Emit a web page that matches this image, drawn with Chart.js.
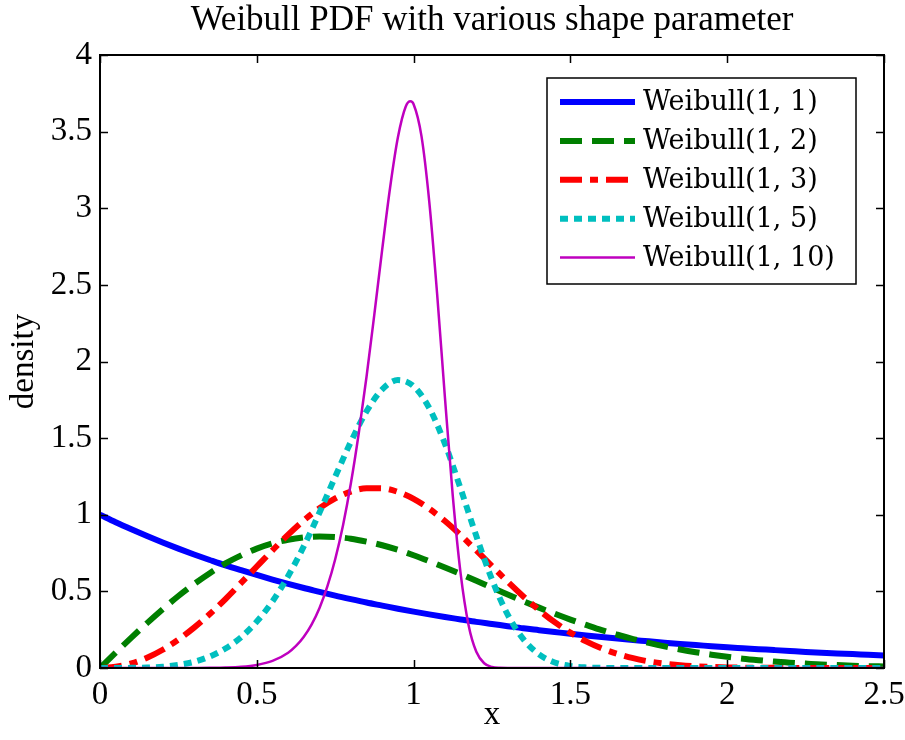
<!DOCTYPE html>
<html>
<head>
<meta charset="utf-8">
<script src="https://cdn.jsdelivr.net/npm/chart.js@4.4.1/dist/chart.umd.min.js"></script>
<style>
  body { margin: 0; background: #fff; }
  canvas { display: block; }
</style>
</head>
<body>
<canvas id="weibullChart" width="905" height="740"></canvas>
<script>
// valores
var xGrid = [0, 0.05, 0.1, 0.15, 0.2, 0.25, 0.3, 0.35, 0.4, 0.45, 0.5, 0.55, 0.6, 0.65, 0.7, 0.75, 0.8, 0.85, 0.9, 0.95,
  1, 1.05, 1.1, 1.15, 1.2, 1.25, 1.3, 1.35, 1.4, 1.45, 1.5, 1.55, 1.6, 1.65, 1.7, 1.75, 1.8, 1.85, 1.9, 1.95,
  2, 2.05, 2.1, 2.15, 2.2, 2.25, 2.3, 2.35, 2.4, 2.45, 2.5];

var weibull1 = [1, 0.951, 0.905, 0.861, 0.819, 0.779, 0.741, 0.705, 0.670, 0.638, 0.607, 0.577, 0.549, 0.522, 0.497, 0.472, 0.449, 0.427, 0.407, 0.387,
  0.368, 0.350, 0.333, 0.317, 0.301, 0.287, 0.273, 0.259, 0.247, 0.235, 0.223, 0.212, 0.202, 0.192, 0.183, 0.174, 0.165, 0.157, 0.150, 0.142,
  0.135, 0.129, 0.123, 0.117, 0.111, 0.105, 0.100, 0.095, 0.091, 0.086, 0.082];

var weibull2 = [0, 0.100, 0.198, 0.293, 0.384, 0.470, 0.548, 0.619, 0.682, 0.735, 0.779, 0.813, 0.837, 0.852, 0.858, 0.855, 0.844, 0.825, 0.801, 0.771,
  0.736, 0.697, 0.656, 0.613, 0.569, 0.524, 0.480, 0.436, 0.394, 0.354, 0.316, 0.281, 0.247, 0.217, 0.189, 0.164, 0.141, 0.121, 0.103, 0.087,
  0.073, 0.061, 0.051, 0.042, 0.035, 0.029, 0.023, 0.019, 0.015, 0.012, 0.010];

var weibull3 = [0, 0.008, 0.030, 0.067, 0.119, 0.185, 0.263, 0.352, 0.450, 0.555, 0.662, 0.768, 0.870, 0.963, 1.043, 1.107, 1.151, 1.173, 1.172, 1.149,
  1.104, 1.039, 0.959, 0.867, 0.767, 0.665, 0.563, 0.467, 0.378, 0.299, 0.231, 0.174, 0.128, 0.092, 0.064, 0.043, 0.029, 0.018, 0.011, 0.007,
  0.004, 0.002, 0.001, 0.001, 0, 0, 0, 0, 0, 0, 0];

var weibull5 = [0, 0, 0.001, 0.003, 0.008, 0.020, 0.040, 0.075, 0.127, 0.201, 0.303, 0.435, 0.600, 0.795, 1.015, 1.248, 1.476, 1.675, 1.818, 1.879,
  1.839, 1.696, 1.463, 1.170, 0.861, 0.577, 0.348, 0.188, 0.089, 0.036, 0.013, 0.004, 0.001, 0, 0, 0, 0, 0, 0, 0,
  0, 0, 0, 0, 0, 0, 0, 0, 0, 0, 0];

// shape 10 tem um pico estreito, então tem pontos mais próximos
var xFine = [0, 0.3, 0.35, 0.4, 0.45, 0.5, 0.55, 0.6, 0.625, 0.65, 0.675, 0.7, 0.725, 0.75, 0.775, 0.8, 0.825, 0.85, 0.875, 0.9,
  0.925, 0.95, 0.975, 0.99, 1, 1.025, 1.05, 1.075, 1.1, 1.125, 1.15, 1.175, 1.2, 1.225, 1.25, 1.275, 1.3, 2.5];
var weibull10 = [0, 0, 0.001, 0.003, 0.008, 0.020, 0.046, 0.100, 0.144, 0.204, 0.285, 0.392, 0.532, 0.710, 0.932, 1.205, 1.530, 1.902, 2.311, 2.733,
  3.134, 3.463, 3.664, 3.698, 3.679, 3.472, 3.042, 2.441, 1.763, 1.122, 0.616, 0.283, 0.106, 0.031, 0.007, 0.001, 0, 0];

var seriesLabels = ["Weibull(1, 1)", "Weibull(1, 2)", "Weibull(1, 3)", "Weibull(1, 5)", "Weibull(1, 10)"];
var xTickValues = [0, 0.5, 1, 1.5, 2, 2.5];
var yTickValues = [0, 0.5, 1, 1.5, 2, 2.5, 3, 3.5, 4];
var chartTitle = "Weibull PDF with various shape parameter";

function pairs(xs, ys) {
  return xs.map(function (x, i) { return { x: x, y: ys[i] }; });
}

var serifFont = "'Liberation Serif', 'Times New Roman', serif";

var lineStyles = [
  { color: "#0000ff", width: 6, dash: [] },
  { color: "#007f00", width: 6, dash: [22, 10] },
  { color: "#ff0000", width: 6, dash: [22, 8, 8, 8] },
  { color: "#00bfbf", width: 6, dash: [8, 6] },
  { color: "#bf00bf", width: 2.5, dash: [] },
];

var seriesData = [
  pairs(xGrid, weibull1),
  pairs(xGrid, weibull2),
  pairs(xGrid, weibull3),
  pairs(xGrid, weibull5),
  pairs(xFine, weibull10),
];

var datasets = seriesData.map(function (d, i) {
  return {
    label: seriesLabels[i],
    data: d,
    borderColor: lineStyles[i].color,
    borderWidth: lineStyles[i].width,
    borderDash: lineStyles[i].dash,
    borderCapStyle: "butt",
    pointRadius: 0,
    fill: false,
    cubicInterpolationMode: "monotone",
    order: seriesLabels.length - i,
  };
});

// caixa do gráfico com ticks para dentro, estilo matlab
var boxPlugin = {
  id: "boxTicks",
  afterDraw: function (chart) {
    var ctx = chart.ctx;
    var a = chart.chartArea;
    var xs = chart.scales.x;
    var ys = chart.scales.y;
    ctx.save();

    // título centrado sobre os eixos
    ctx.fillStyle = "#000";
    ctx.font = "35px " + serifFont;
    ctx.textAlign = "center";
    ctx.textBaseline = "middle";
    ctx.fillText(chartTitle, (a.left + a.right) / 2, 21);
    ctx.textAlign = "left";

    ctx.strokeStyle = "#000";
    ctx.lineWidth = 2;
    ctx.strokeRect(a.left, a.top, a.right - a.left, a.bottom - a.top);
    ctx.lineWidth = 1.5;
    ctx.beginPath();
    xTickValues.forEach(function (v) {
      var px = Math.round(xs.getPixelForValue(v)) + 0.5;
      ctx.moveTo(px, a.bottom); ctx.lineTo(px, a.bottom - 8);
      ctx.moveTo(px, a.top); ctx.lineTo(px, a.top + 8);
    });
    yTickValues.forEach(function (v) {
      var py = Math.round(ys.getPixelForValue(v)) + 0.5;
      ctx.moveTo(a.left, py); ctx.lineTo(a.left + 8, py);
      ctx.moveTo(a.right, py); ctx.lineTo(a.right - 8, py);
    });
    ctx.stroke();

    // legenda dentro da área
    var boxW = 309, rowH = 38.9;
    var bx = a.right - 28 - boxW;
    var by = a.top + 23;
    var boxH = 206;
    ctx.fillStyle = "#fff";
    ctx.fillRect(bx, by, boxW, boxH);
    ctx.lineWidth = 1.5;
    ctx.strokeStyle = "#000";
    ctx.strokeRect(bx, by, boxW, boxH);
    ctx.font = "27px 'DejaVu Serif', serif";
    ctx.textBaseline = "middle";
    chart.data.datasets.forEach(function (ds, i) {
      var cy = by + 24 + i * rowH;
      ctx.beginPath();
      ctx.strokeStyle = ds.borderColor;
      ctx.lineWidth = ds.borderWidth;
      ctx.setLineDash(ds.borderDash);
      ctx.lineCap = "butt";
      ctx.moveTo(bx + 13, cy);
      ctx.lineTo(bx + 88, cy);
      ctx.stroke();
      ctx.setLineDash([]);
      ctx.fillStyle = "#000";
      ctx.fillText(ds.label, bx + 96, cy + 1);
    });
    ctx.restore();
  },
};

function plainLabel(value) {
  return String(value);
}

var ctx = document.getElementById("weibullChart").getContext("2d");
var chart = new Chart(ctx, {
  type: "line",
  data: { datasets: datasets },
  options: {
    responsive: false,
    animation: false,
    layout: { padding: { left: 0, right: 0, top: 55, bottom: 0 } },
    plugins: {
      legend: { display: false },
      tooltip: { enabled: false },
      title: { display: false },
    },
    scales: {
      x: {
        type: "linear",
        min: 0,
        max: 2.5,
        afterBuildTicks: function (scale) {
          scale.ticks = xTickValues.map(function (v) { return { value: v }; });
        },
        afterFit: function (scale) {
          scale.height = 72;
          scale.paddingRight = 21;
        },
        grid: { display: false, drawTicks: false },
        border: { display: false },
        ticks: { color: "#000", padding: 8, maxRotation: 0, callback: plainLabel, font: { family: serifFont, size: 33 } },
        title: {
          display: true,
          text: "x",
          color: "#000",
          font: { family: serifFont, size: 33 },
          padding: { top: 0, bottom: 5 },
        },
      },
      y: {
        type: "linear",
        min: 0,
        max: 4,
        afterBuildTicks: function (scale) {
          scale.ticks = yTickValues.map(function (v) { return { value: v }; });
        },
        afterFit: function (scale) { scale.width = 100; },
        grid: { display: false, drawTicks: false },
        border: { display: false },
        ticks: { color: "#000", padding: 8, callback: plainLabel, font: { family: serifFont, size: 33 } },
        title: {
          display: true,
          text: "density",
          color: "#000",
          font: { family: serifFont, size: 33 },
          padding: { top: 5, bottom: 0 },
        },
      },
    },
  },
  plugins: [boxPlugin],
});
</script>
</body>
</html>
